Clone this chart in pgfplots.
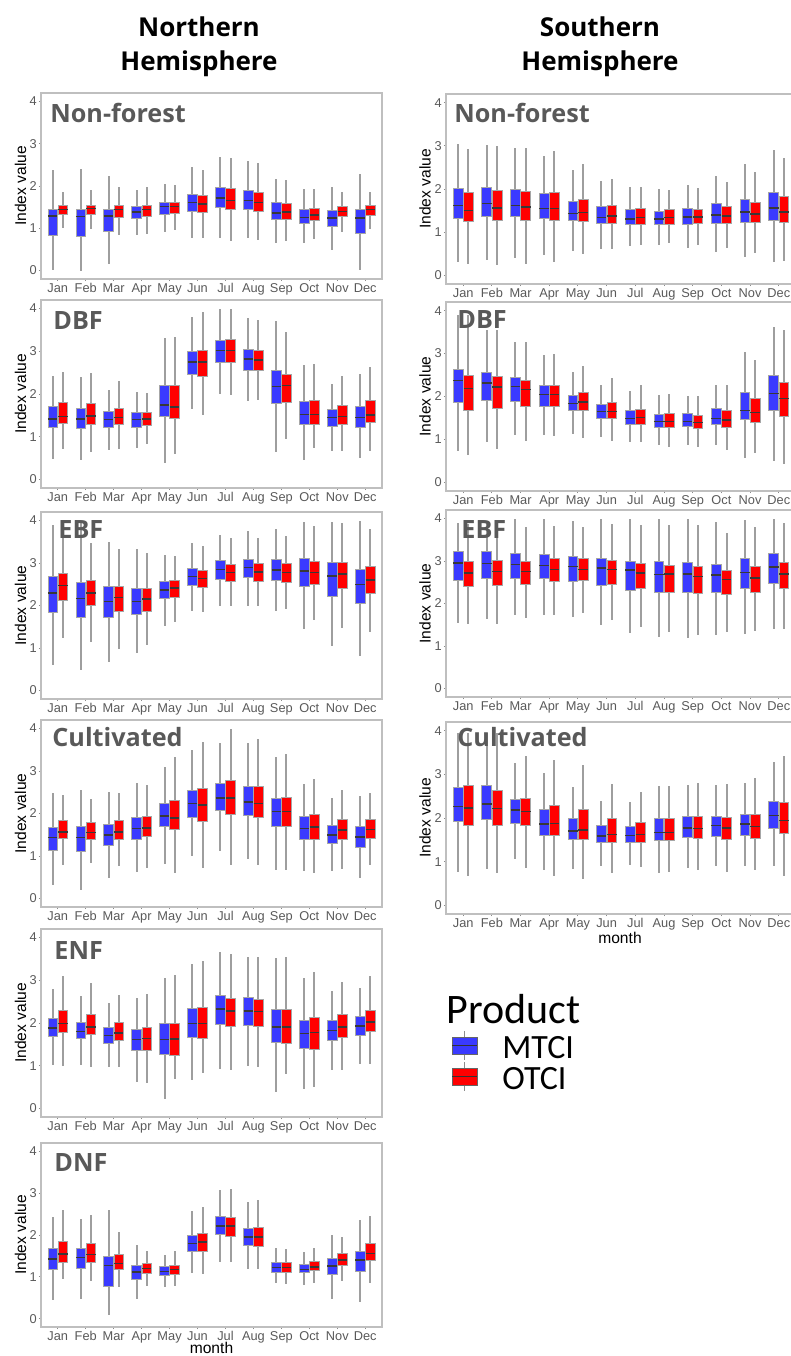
\documentclass[border=0pt]{standalone}
\usepackage{pgfplots}
\pgfplotsset{compat=1.18}
\usepackage{pgfplotstable}
\usepgfplotslibrary{statistics}
\usepackage{fontspec}
\setmainfont{Liberation Sans}
\newfontfamily\panelfont{Open Sans}
\newfontfamily\legfont{Carlito}
\definecolor{mtci}{RGB}{58,58,255}
\definecolor{otci}{RGB}{255,0,0}
\definecolor{lblgray}{RGB}{89,89,89}

% columns: month | MTCI: lower whisker, lower quartile, median, upper quartile, upper whisker | OTCI: same
\pgfplotstableread{
m blw blq bmed buq buw rlw rlq rmed ruq ruw
1 0.02 0.84 1.29 1.45 2.37 1.01 1.33 1.45 1.55 1.86
2 0.00 0.80 1.28 1.44 2.41 0.98 1.33 1.47 1.55 1.90
3 0.16 0.93 1.29 1.44 2.23 0.83 1.25 1.45 1.55 1.98
4 0.83 1.23 1.38 1.51 1.91 0.86 1.27 1.45 1.55 1.97
5 0.91 1.34 1.51 1.62 2.05 0.95 1.36 1.51 1.62 2.03
6 0.77 1.40 1.61 1.81 2.44 0.77 1.38 1.58 1.78 2.39
7 0.77 1.50 1.72 1.97 2.68 0.70 1.44 1.66 1.94 2.67
8 0.76 1.44 1.66 1.89 2.58 0.73 1.40 1.61 1.86 2.55
9 0.65 1.22 1.36 1.61 2.17 0.69 1.22 1.39 1.60 2.14
10 0.66 1.12 1.25 1.44 1.94 0.74 1.18 1.32 1.48 1.94
11 0.49 1.05 1.24 1.42 1.98 0.92 1.27 1.40 1.52 1.86
12 0.02 0.87 1.24 1.44 2.29 0.98 1.31 1.44 1.55 1.87
}\NNF
\pgfplotstableread{
m blw blq bmed buq buw rlw rlq rmed ruq ruw
1 0.49 1.21 1.41 1.70 2.41 0.72 1.31 1.47 1.80 2.52
2 0.46 1.19 1.42 1.67 2.40 0.65 1.30 1.49 1.79 2.50
3 0.70 1.23 1.40 1.59 2.09 0.72 1.29 1.45 1.66 2.30
4 0.74 1.23 1.40 1.56 2.05 0.83 1.27 1.41 1.56 2.02
5 0.38 1.48 1.74 2.21 3.32 0.59 1.43 1.70 2.20 3.34
6 1.66 2.46 2.75 2.99 3.81 1.52 2.42 2.75 3.01 3.93
7 1.99 2.75 3.02 3.26 4.00 1.98 2.74 3.02 3.27 4.00
8 1.84 2.56 2.82 3.05 3.77 1.86 2.56 2.80 3.03 3.73
9 0.65 1.77 2.18 2.55 3.71 0.95 1.81 2.20 2.46 3.44
10 0.45 1.29 1.52 1.82 2.67 0.74 1.29 1.52 1.85 2.71
11 0.66 1.25 1.45 1.64 2.24 0.66 1.29 1.47 1.74 2.41
12 0.51 1.23 1.45 1.70 2.46 0.66 1.34 1.51 1.84 2.63
}\NDBF
\pgfplotstableread{
m blw blq bmed buq buw rlw rlq rmed ruq ruw
1 0.59 1.84 2.30 2.69 3.89 1.23 2.13 2.47 2.76 3.90
2 0.48 1.72 2.16 2.54 3.98 1.13 2.00 2.30 2.59 3.48
3 0.67 1.72 2.09 2.45 3.50 0.97 1.86 2.19 2.46 3.34
4 0.88 1.80 2.10 2.40 3.32 1.08 1.85 2.15 2.40 3.24
5 1.52 2.16 2.37 2.57 3.20 1.61 2.19 2.41 2.59 3.16
6 1.86 2.47 2.68 2.87 3.46 1.84 2.42 2.64 2.83 3.41
7 1.99 2.62 2.85 3.05 3.67 1.98 2.56 2.78 2.97 3.58
8 1.98 2.66 2.89 3.09 3.75 1.99 2.56 2.79 2.98 3.58
9 1.88 2.59 2.84 3.09 3.81 1.91 2.55 2.78 3.00 3.63
10 1.45 2.44 2.81 3.11 3.97 1.66 2.49 2.78 3.04 3.87
11 1.05 2.22 2.69 3.01 3.97 1.47 2.41 2.74 3.02 3.95
12 0.82 2.04 2.49 2.85 3.98 1.38 2.29 2.60 2.91 3.80
}\NEBF
\pgfplotstableread{
m blw blq bmed buq buw rlw rlq rmed ruq ruw
1 0.31 1.13 1.44 1.68 2.49 0.80 1.42 1.57 1.83 2.43
2 0.21 1.10 1.44 1.69 2.56 0.84 1.39 1.55 1.78 2.35
3 0.49 1.25 1.50 1.75 2.51 0.76 1.39 1.57 1.83 2.49
4 0.63 1.40 1.65 1.92 2.71 0.72 1.45 1.66 1.94 2.67
5 0.82 1.69 1.94 2.24 3.10 0.60 1.62 1.90 2.32 3.33
6 0.99 1.92 2.23 2.55 3.49 0.72 1.82 2.20 2.58 3.69
7 1.12 2.08 2.36 2.71 3.66 0.78 1.97 2.36 2.78 3.98
8 0.92 1.95 2.27 2.63 3.66 0.78 1.90 2.24 2.64 3.76
9 0.68 1.69 2.05 2.35 3.33 0.66 1.69 2.05 2.38 3.41
10 0.64 1.40 1.65 1.93 2.69 0.60 1.40 1.68 1.98 2.82
11 0.64 1.29 1.50 1.72 2.36 0.70 1.40 1.61 1.86 2.56
12 0.49 1.21 1.45 1.69 2.42 0.80 1.41 1.62 1.85 2.49
}\NCUL
\pgfplotstableread{
m blw blq bmed buq buw rlw rlq rmed ruq ruw
1 1.02 1.69 1.88 2.11 2.80 0.99 1.77 1.99 2.29 3.09
2 1.02 1.63 1.80 2.02 2.64 0.98 1.73 1.91 2.20 2.94
3 0.97 1.53 1.71 1.90 2.48 0.96 1.59 1.77 2.02 2.66
4 0.61 1.35 1.62 1.84 2.59 0.59 1.37 1.64 1.89 2.69
5 0.21 1.27 1.61 1.98 3.05 0.68 1.25 1.63 2.00 3.13
6 0.67 1.67 1.99 2.34 3.38 0.84 1.64 1.99 2.36 3.46
7 0.92 1.96 2.33 2.64 3.66 0.90 1.91 2.28 2.58 3.61
8 1.00 1.95 2.28 2.59 3.54 0.98 1.91 2.27 2.56 3.54
9 0.38 1.54 1.91 2.33 3.52 0.80 1.52 1.91 2.33 3.54
10 0.45 1.41 1.76 2.05 3.05 0.51 1.39 1.78 2.13 3.20
11 0.89 1.59 1.82 2.05 2.75 0.89 1.67 1.91 2.19 2.95
12 1.05 1.72 1.93 2.16 2.81 1.03 1.80 2.02 2.30 3.09
}\NENF
\pgfplotstableread{
m blw blq bmed buq buw rlw rlq rmed ruq ruw
1 0.44 1.18 1.43 1.68 2.42 0.95 1.34 1.55 1.85 2.59
2 0.48 1.20 1.46 1.67 2.38 0.90 1.34 1.54 1.79 2.48
3 0.08 0.76 1.27 1.50 2.59 0.75 1.18 1.32 1.54 2.08
4 0.46 0.94 1.11 1.27 1.76 0.79 1.09 1.20 1.31 1.62
5 0.75 1.03 1.13 1.24 1.52 0.79 1.07 1.17 1.28 1.61
6 1.10 1.62 1.80 2.00 2.57 1.07 1.62 1.83 2.04 2.67
7 1.36 2.01 2.22 2.44 3.08 1.36 1.97 2.21 2.43 3.10
8 1.18 1.75 1.95 2.16 2.79 1.18 1.73 1.95 2.18 2.84
9 0.85 1.10 1.22 1.34 1.68 0.82 1.10 1.22 1.34 1.67
10 0.81 1.10 1.18 1.30 1.60 0.85 1.15 1.24 1.37 1.69
11 0.47 1.05 1.26 1.44 2.01 0.89 1.28 1.40 1.56 1.96
12 0.40 1.13 1.40 1.62 2.37 0.85 1.39 1.56 1.81 2.46
}\NDNF
\pgfplotstableread{
m blw blq bmed buq buw rlw rlq rmed ruq ruw
1 0.31 1.33 1.62 2.01 3.05 0.26 1.24 1.50 1.91 2.93
2 0.36 1.36 1.66 2.03 3.02 0.25 1.28 1.56 1.97 3.00
3 0.40 1.36 1.62 1.99 2.94 0.27 1.28 1.58 1.95 2.96
4 0.48 1.32 1.55 1.89 2.76 0.31 1.27 1.55 1.91 2.89
5 0.57 1.27 1.43 1.72 2.43 0.50 1.25 1.46 1.77 2.58
6 0.62 1.21 1.34 1.60 2.18 0.60 1.21 1.37 1.62 2.24
7 0.67 1.18 1.31 1.52 2.04 0.71 1.19 1.34 1.55 2.05
8 0.71 1.17 1.31 1.49 1.99 0.74 1.19 1.34 1.52 1.98
9 0.63 1.19 1.35 1.55 2.09 0.71 1.21 1.35 1.52 2.03
10 0.53 1.21 1.40 1.66 2.31 0.63 1.21 1.38 1.59 2.17
11 0.42 1.23 1.47 1.77 2.57 0.52 1.22 1.42 1.68 2.39
12 0.30 1.27 1.56 1.91 2.91 0.34 1.23 1.47 1.83 2.72
}\SNF
\pgfplotstableread{
m blw blq bmed buq buw rlw rlq rmed ruq ruw
1 0.72 1.86 2.37 2.62 3.89 0.64 1.68 2.19 2.48 3.89
2 0.93 1.90 2.32 2.56 3.56 0.78 1.73 2.22 2.46 3.56
3 1.11 1.88 2.23 2.44 3.27 0.96 1.77 2.16 2.38 3.27
4 1.11 1.78 2.05 2.26 2.97 1.07 1.78 2.05 2.27 2.99
5 1.13 1.67 1.84 2.02 2.57 1.03 1.67 1.87 2.10 2.72
6 1.05 1.49 1.65 1.82 2.27 0.96 1.48 1.65 1.87 2.43
7 0.93 1.35 1.49 1.67 2.12 0.93 1.36 1.51 1.71 2.26
8 0.86 1.29 1.42 1.59 2.04 0.83 1.28 1.42 1.60 2.05
9 0.87 1.30 1.42 1.60 2.02 0.83 1.26 1.39 1.57 2.02
10 0.86 1.35 1.49 1.73 2.27 0.76 1.28 1.45 1.67 2.26
11 0.58 1.46 1.68 2.09 3.03 0.68 1.39 1.63 1.96 2.85
12 0.51 1.68 2.07 2.50 3.62 0.43 1.53 1.95 2.33 3.56
}\SDBF
\pgfplotstableread{
m blw blq bmed buq buw rlw rlq rmed ruq ruw
1 1.55 2.55 2.95 3.23 3.90 1.52 2.41 2.72 2.98 3.86
2 1.64 2.59 2.94 3.22 3.86 1.51 2.43 2.75 3.02 3.86
3 1.72 2.59 2.92 3.18 4.00 1.66 2.46 2.75 3.00 3.80
4 1.74 2.59 2.90 3.15 4.00 1.74 2.53 2.80 3.05 3.82
5 1.68 2.53 2.87 3.10 3.94 1.77 2.54 2.80 3.05 3.80
6 1.49 2.42 2.84 3.05 3.98 1.62 2.46 2.80 3.02 3.86
7 1.31 2.32 2.79 3.00 4.00 1.45 2.35 2.72 2.94 3.84
8 1.22 2.27 2.68 2.98 4.00 1.33 2.27 2.70 2.89 3.84
9 1.18 2.27 2.70 2.97 4.00 1.27 2.24 2.64 2.88 3.84
10 1.27 2.27 2.67 2.92 3.92 1.33 2.21 2.56 2.78 3.66
11 1.29 2.35 2.73 3.05 3.96 1.35 2.27 2.60 2.88 3.80
12 1.39 2.48 2.86 3.18 3.98 1.41 2.35 2.70 2.97 3.90
}\SEBF
\pgfplotstableread{
m blw blq bmed buq buw rlw rlq rmed ruq ruw
1 0.77 1.92 2.26 2.70 3.95 0.66 1.82 2.23 2.74 3.95
2 0.83 1.96 2.32 2.74 3.95 0.75 1.84 2.22 2.63 3.95
3 1.06 1.87 2.18 2.42 3.26 0.86 1.82 2.15 2.46 3.43
4 0.81 1.61 1.86 2.19 3.04 0.68 1.61 1.87 2.29 3.32
5 0.83 1.51 1.70 2.00 2.72 0.60 1.51 1.73 2.20 3.21
6 0.89 1.45 1.59 1.82 2.39 0.75 1.45 1.62 1.99 2.79
7 0.93 1.45 1.60 1.81 2.36 0.87 1.45 1.62 1.90 2.60
8 0.75 1.48 1.67 1.98 2.73 0.77 1.49 1.67 1.99 2.73
9 0.85 1.55 1.77 2.03 2.75 0.81 1.54 1.76 2.03 2.80
10 0.89 1.58 1.83 2.04 2.75 0.77 1.52 1.77 2.01 2.78
11 0.90 1.61 1.86 2.08 2.80 0.81 1.54 1.81 2.09 2.91
12 0.91 1.77 2.06 2.37 3.28 0.66 1.65 1.94 2.36 3.41
}\SCUL

\pgfplotsset{
  base/.style={scale only axis, anchor=south west,
    xmin=0.4, xmax=12.6, ymin=-0.2, ymax=4.2,
    xtick={1,...,12}, xticklabels={Jan,Feb,Mar,Apr,May,Jun,Jul,Aug,Sep,Oct,Nov,Dec},
    ytick={0,1,2,3,4}, xtick pos=bottom, ytick pos=left,
    tick align=outside, major tick length=1.1pt,
    axis line style={draw=black!25, line width=0.6pt},
    every tick/.style={draw=black!45, line width=0.5pt},
    ticklabel style={font=\fontsize{6.4}{7}\selectfont, text=black!65, inner sep=0.8pt},
    /pgf/number format/assume math mode=true,
    ylabel={Index value},
    every axis y label/.style={at={(axis description cs:-0.06,0.5)}, rotate=90, anchor=center, font=\fontsize{7.8}{9}\selectfont},
  },
  boxbase/.style={boxplot/draw direction=y, boxplot/box extend=0.34, boxplot/whisker extend=0,
    boxplot/every whisker/.style={draw=black!38, line width=1pt},
    boxplot/every median/.style={draw=black!78, line width=0.75pt}},
  mbox/.style={boxbase, boxplot/every box/.style={draw=black!35, line width=0.4pt, fill=mtci}},
  obox/.style={boxbase, boxplot/every box/.style={draw=black!35, line width=0.4pt, fill=otci}},
}

\newcommand{\getv}[4]{\pgfplotstablegetelem{#1}{#2}\of{#3}\edef#4{\pgfplotsretval}}
\newcommand{\drawboxes}[1]{%
  \pgfplotsinvokeforeach{0,...,11}{%
    \pgfplotstablegetelem{##1}{m}\of{#1}%
    \pgfmathsetmacro\pb{\pgfplotsretval-0.18}%
    \pgfmathsetmacro\pr{\pgfplotsretval+0.18}%
    \getv{##1}{blw}{#1}\vA \getv{##1}{blq}{#1}\vB \getv{##1}{bmed}{#1}\vC
    \getv{##1}{buq}{#1}\vD \getv{##1}{buw}{#1}\vE
    \edef\doit{\noexpand\addplot[mbox, boxplot prepared={draw position=\pb, lower whisker=\vA, lower quartile=\vB, median=\vC, upper quartile=\vD, upper whisker=\vE}] coordinates {};}\doit
    \getv{##1}{rlw}{#1}\vA \getv{##1}{rlq}{#1}\vB \getv{##1}{rmed}{#1}\vC
    \getv{##1}{ruq}{#1}\vD \getv{##1}{ruw}{#1}\vE
    \edef\doit{\noexpand\addplot[obox, boxplot prepared={draw position=\pr, lower whisker=\vA, lower quartile=\vB, median=\vC, upper quartile=\vD, upper whisker=\vE}] coordinates {};}\doit
  }}
\newcommand{\panel}[5]{%
  \begin{axis}[base, at={(#2,#3)}, width=#4, height=#5]
  \drawboxes{#1}
  \end{axis}}

\begin{document}
\begin{tikzpicture}
\useasboundingbox (0,0) rectangle (395.5pt,-678pt);
\panel{\NNF}{20.5pt}{-139.5pt}{170.5pt}{93pt}
\panel{\NDBF}{20.5pt}{-244pt}{170.5pt}{94pt}
\panel{\NEBF}{20.5pt}{-349.5pt}{170.5pt}{93.5pt}
\panel{\NCUL}{20.5pt}{-453.5pt}{170.5pt}{93.5pt}
\panel{\NENF}{20.5pt}{-558.5pt}{170.5pt}{94pt}
\panel{\NDNF}{20.5pt}{-663.5pt}{170.5pt}{92pt}
\panel{\SNF}{223pt}{-142pt}{175pt}{95pt}
\panel{\SDBF}{223pt}{-245.5pt}{175pt}{94.5pt}
\panel{\SEBF}{223pt}{-348.5pt}{175pt}{93.5pt}
\panel{\SCUL}{223pt}{-457pt}{175pt}{96pt}

\begin{scope}[x=0.5pt,y=-0.5pt]
  % headers
  \begin{scope}[every node/.style={anchor=base, inner sep=0, font=\panelfont\bfseries\fontsize{13}{15}\selectfont}]
    \node at (199,36) {Northern};
    \node at (199,70) {Hemisphere};
    \node at (600,36) {Southern};
    \node at (600,70) {Hemisphere};
  \end{scope}
  % panel labels
  \begin{scope}[every node/.style={anchor=base west, inner sep=0, text=lblgray, font=\panelfont\bfseries\fontsize{12.6}{14}\selectfont}]
    \node at (50,122) {Non-forest};
    \node at (53,329) {DBF};
    \node at (58,538) {EBF};
    \node at (52,746) {Cultivated};
    \node at (54,959) {ENF};
    \node at (54,1171) {DNF};
    \node at (454,122) {Non-forest};
    \node at (457,328) {DBF};
    \node at (461,538) {EBF};
    \node at (457,746) {Cultivated};
  \end{scope}
  % x axis titles
  \node[anchor=base, inner sep=0, font=\fontsize{7.8}{9}\selectfont] at (211.5,1353) {month};
  \node[anchor=base, inner sep=0, font=\fontsize{7.8}{9}\selectfont] at (620,943) {month};
  % legend
  \node[anchor=base west, inner sep=0, font=\legfont\fontsize{21}{24}\selectfont] at (446,1023) {Product};
  \draw[black!45, line width=0.8pt] (464.5,1031) -- (464.5,1060);
  \filldraw[fill=mtci, draw=black!60, line width=0.5pt] (452,1037) rectangle (477,1054);
  \draw[black!80, line width=0.8pt] (452,1045.5) -- (477,1045.5);
  \draw[black!45, line width=0.8pt] (464.5,1062) -- (464.5,1091);
  \filldraw[fill=otci, draw=black!60, line width=0.5pt] (452,1068) rectangle (477,1085);
  \draw[black!80, line width=0.8pt] (452,1076.5) -- (477,1076.5);
  \node[anchor=base west, inner sep=0, font=\legfont\fontsize{17}{20}\selectfont] at (502,1058) {MTCI};
  \node[anchor=base west, inner sep=0, font=\legfont\fontsize{17}{20}\selectfont] at (502,1089) {OTCI};
\end{scope}
\end{tikzpicture}
\end{document}
